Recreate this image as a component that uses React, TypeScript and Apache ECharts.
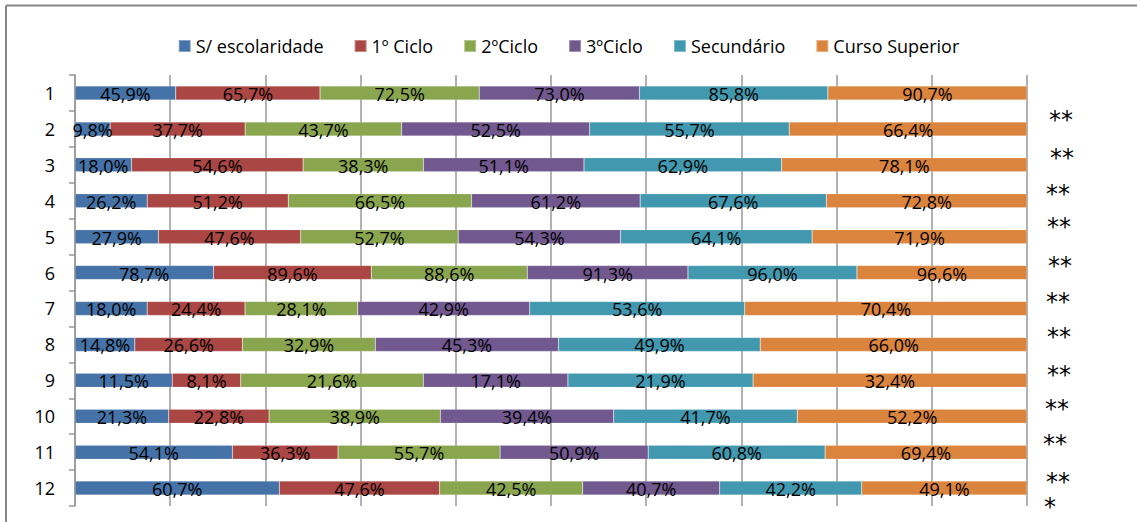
import React, { useEffect, useRef } from "react";
import * as echarts from "echarts";

const categories = ["1", "2", "3", "4", "5", "6", "7", "8", "9", "10", "11", "12"];
const seriesNames = ["S/ escolaridade", "1º Ciclo", "2ºCiclo", "3ºCiclo", "Secundário", "Curso Superior"];
const colors = ["#4572A7", "#AA4643", "#89A54E", "#71588F", "#4198AF", "#DB843D"];

const semEscolaridade = [45.9, 9.8, 18.0, 26.2, 27.9, 78.7, 18.0, 14.8, 11.5, 21.3, 54.1, 60.7];
const primeiroCiclo = [65.7, 37.7, 54.6, 51.2, 47.6, 89.6, 24.4, 26.6, 8.1, 22.8, 36.3, 47.6];
const segundoCiclo = [72.5, 43.7, 38.3, 66.5, 52.7, 88.6, 28.1, 32.9, 21.6, 38.9, 55.7, 42.5];
const terceiroCiclo = [73.0, 52.5, 51.1, 61.2, 54.3, 91.3, 42.9, 45.3, 17.1, 39.4, 50.9, 40.7];
const secundario = [85.8, 55.7, 62.9, 67.6, 64.1, 96.0, 53.6, 49.9, 21.9, 41.7, 60.8, 42.2];
const cursoSuperior = [90.7, 66.4, 78.1, 72.8, 71.9, 96.6, 70.4, 66.0, 32.4, 52.2, 69.4, 49.1];

const starMarks = ["**", "**", "**", "**", "**", "**", "**", "**", "**", "**", "**", "*"];
const starPos: [number, number][] = [
  [1049, 120], [1050, 158], [1046, 194], [1047, 227], [1048, 266], [1046, 302],
  [1047, 337], [1047, 375], [1045, 409], [1043, 444], [1046, 482], [1044, 507],
];

export default function App() {
  const ref = useRef<HTMLDivElement>(null);
  useEffect(() => {
    document.body.style.margin = "0";
    const chart = echarts.init(ref.current!, null, { renderer: "svg" });
    const all = [semEscolaridade, primeiroCiclo, segundoCiclo, terceiroCiclo, secundario, cursoSuperior];
    const sums = categories.map((_, i) => all.reduce((s, arr) => s + arr[i], 0));
    const font = "'Open Sans', sans-serif";
    const series = all.map((arr, k) => ({
      name: seriesNames[k],
      type: "bar",
      stack: "total",
      barWidth: 14,
      itemStyle: { color: colors[k], borderColor: "rgba(255,255,255,0.35)", borderWidth: 0.5 },
      label: {
        show: true,
        position: "inside",
        color: "#000",
        fontSize: 18,
        fontFamily: font,
        offset: [0, 1],
        formatter: (p: any) => arr[p.dataIndex].toFixed(1).replace(".", ",") + "%",
      },
      data: arr.map((v, i) => (v / sums[i]) * 100),
    }));
    chart.setOption({
      animation: false,
      color: colors,
      legend: {
        top: 32,
        left: "center",
        itemWidth: 12,
        itemHeight: 12,
        itemGap: 30,
        icon: "rect",
        textStyle: { fontSize: 18, fontFamily: font, color: "#000" },
        data: seriesNames,
      },
      grid: { left: 75, right: 110, top: 75, bottom: 16, containLabel: false },
      xAxis: {
        type: "value",
        min: 0,
        max: 100,
        interval: 10,
        axisLabel: { show: false },
        axisLine: { show: false },
        axisTick: { show: false },
        splitLine: { show: true, lineStyle: { color: "#999", width: 1.5 } },
      },
      yAxis: {
        type: "category",
        data: categories,
        inverse: true,
        axisLine: { show: true, lineStyle: { color: "#999", width: 1.5 } },
        axisTick: { show: true, length: 6, lineStyle: { color: "#999", width: 1.5 } },
        axisLabel: { fontSize: 18, fontFamily: font, color: "#000", margin: 20 },
      },
      graphic: [
        { type: "line", shape: { x1: 6, y1: 5.5, x2: 1137, y2: 5.5 }, style: { stroke: "#888", lineWidth: 2 } },
        { type: "line", shape: { x1: 6, y1: 5.5, x2: 6, y2: 522 }, style: { stroke: "#888", lineWidth: 2 } },
        ...starMarks.map((s, i) => ({
          type: "text",
          x: starPos[i][0],
          y: starPos[i][1],
          style: {
            text: s,
            fontSize: 24,
            fontFamily: "'DejaVu Sans', sans-serif",
            fill: "#000",
            textVerticalAlign: "middle",
            verticalAlign: "middle",
          },
        })),
      ],
      series,
    });
    return () => chart.dispose();
  }, []);
  return <div ref={ref} style={{ width: 1137, height: 522 }} />;
}
